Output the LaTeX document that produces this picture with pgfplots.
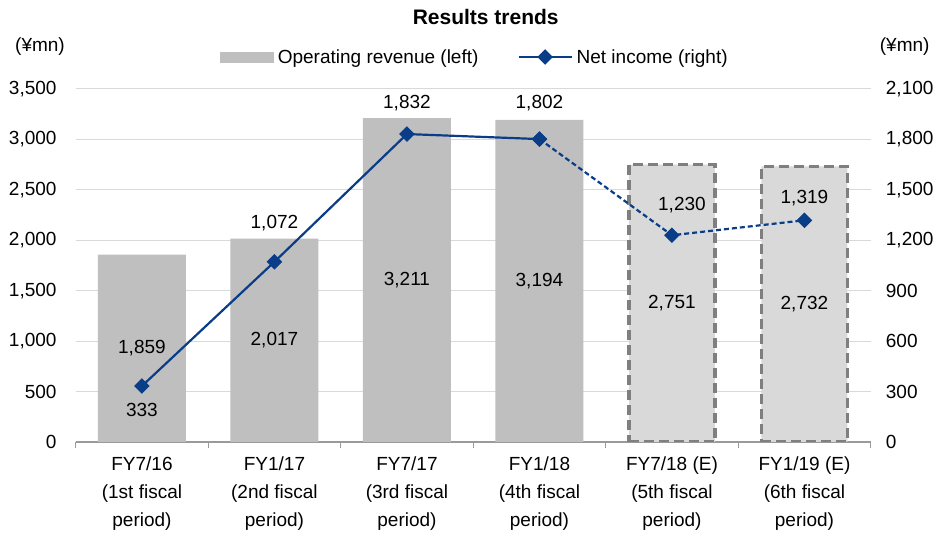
\documentclass[border=0pt]{standalone}
\usepackage{pgfplots}
\pgfplotsset{compat=1.18}
\usepackage{pgfplotstable}
\usepackage{fontspec}
\setmainfont{Liberation Sans}
\definecolor{barG}{HTML}{BFBFBF}
\definecolor{barE}{HTML}{D9D9D9}
\definecolor{edgeE}{HTML}{7F7F7F}
\definecolor{navy}{HTML}{0A3D87}
\definecolor{gridc}{HTML}{D9D9D9}
\definecolor{axc}{HTML}{9A9A9A}
\pgfplotsset{/pgf/number format/.cd, 1000 sep={,}, assume math mode=true}

\pgfplotstableread{
x rev
0 1859
1 2017
2 3211
3 3194
4 2751
5 2732
}\revtable
\pgfplotstableread{
x ni dy dx
0 333 -24 0
1 1072 39 0
2 1832 31 0
3 1802 36 0
4 1230 30 10
5 1319 22 0
}\nitable

\begin{document}
\begin{tikzpicture}[font=\fontsize{19pt}{22pt}\selectfont]
\useasboundingbox (-75.7pt,-95pt) rectangle (858.3pt,442pt);
\begin{axis}[name=ax, at={(0pt,0pt)}, anchor=south west, scale only axis,
  width=795pt, height=353pt,
  xmin=-0.5, xmax=5.5, ymin=0, ymax=3500, ytick={0,500,...,3500},
  scaled y ticks=false,
  axis x line*=bottom, axis y line*=left,
  y axis line style={draw=none},
  x axis line style={draw=axc, line width=1.3pt},
  xtick={0,...,5},
  xticklabels={{FY7/16\\(1st fiscal\\period)},{FY1/17\\(2nd fiscal\\period)},{FY7/17\\(3rd fiscal\\period)},{FY1/18\\(4th fiscal\\period)},{FY7/18 (E)\\(5th fiscal\\period)},{FY1/19 (E)\\(6th fiscal\\period)}},
  xticklabel style={align=center, anchor=north, inner sep=0pt, yshift=-15pt, font=\fontsize{19pt}{28pt}\selectfont},
  yticklabel style={anchor=east, inner sep=0pt, xshift=-19pt},
  major tick length=0pt,
  minor xtick={-0.5,0.5,...,5.5},
  minor tick length=6pt, tick align=outside,
  minor x tick style={draw=axc, line width=1.3pt},
  ymajorgrids, grid style={draw=gridc, line width=1pt},
]
\addplot[ybar, bar width=88pt, bar shift=0pt, fill=barG, draw=none, restrict x to domain=0:3, forget plot]
  table[x=x,y=rev]{\revtable};
\addplot[ybar, bar width=86pt, bar shift=0pt, fill=barE, draw=edgeE, line width=3.8pt,
  dash pattern=on 10pt off 5pt, restrict x to domain=4:5, forget plot]
  table[x=x,y=rev]{\revtable};
\addplot[draw=none, mark=none, forget plot, nodes near coords, point meta=explicit,
  every node near coord/.append style={anchor=center, black}]
  table[x=x, y expr=\thisrow{rev}/2, meta=rev]{\revtable};
\end{axis}
\begin{axis}[at={(0pt,0pt)}, anchor=south west, scale only axis,
  width=795pt, height=353pt,
  xmin=-0.5, xmax=5.5, ymin=0, ymax=2100, ytick={0,300,...,2100},
  scaled y ticks=false,
  axis x line=none, axis y line*=right,
  y axis line style={draw=none},
  major tick length=0pt,
  yticklabel style={anchor=west, inner sep=0pt, xshift=15pt},
  legend style={at={(0.5023,1.0907)}, anchor=center, draw=none, fill=none,
    legend columns=2,
    /tikz/every odd column/.append style={column sep=2pt},
    /tikz/every even column/.append style={column sep=37pt},
    inner sep=0pt, nodes={inner sep=2pt}},
  legend cell align=left,
  legend image code/.code={\draw[mark repeat=2,mark phase=2,#1] plot coordinates {(0pt,0pt) (26.5pt,0pt) (53pt,0pt)};},
]
\addlegendimage{legend image code/.code={\fill[barG] (0pt,-5pt) rectangle (53pt,5pt);}}
\addlegendentry{Operating revenue (left)}
\addplot[navy, line width=2.2pt, mark=square*, mark size=4.4pt, mark options={rotate=45, solid},
  restrict x to domain=0:3] table[x=x,y=ni]{\nitable};
\addlegendentry{Net income (right)}
\addplot[navy, line width=2.2pt, dash pattern=on 5pt off 3pt, mark=square*, mark size=4.4pt,
  mark options={rotate=45, solid}, restrict x to domain=3:5, forget plot] table[x=x,y=ni]{\nitable};
\addplot[draw=none, mark=none, forget plot, nodes near coords, point meta=explicit,
  visualization depends on={\thisrow{dy} \as \ldy},
  visualization depends on={\thisrow{dx} \as \ldx},
  every node near coord/.append style={anchor=center, black, yshift=\ldy pt, xshift=\ldx pt}]
  table[x=x, y=ni, meta=ni]{\nitable};
\end{axis}
\node[font=\bfseries\fontsize{21pt}{24pt}\selectfont] at (410pt,425pt) {Results trends};
\node at (-35.7pt,395pt) {(¥mn)};
\node at (829pt,395pt) {(¥mn)};
\end{tikzpicture}
\end{document}
